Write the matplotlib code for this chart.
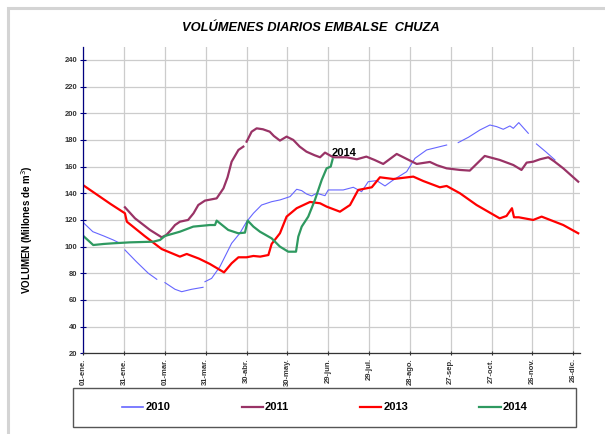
import numpy as np
import matplotlib
matplotlib.use("Agg")
import matplotlib.pyplot as plt
from matplotlib.patches import Rectangle
from matplotlib.lines import Line2D

nan = np.nan
FONT = ["Liberation Sans Narrow", "Liberation Sans", "DejaVu Sans"]
plt.rcParams["font.family"] = FONT

# dia del año (0 = 01-ene) y volumen en millones de m3
days_2010 = [0, 7, 15, 22, 27, 28.5, 30.6, 39, 47.8, 54, 57, 60, 67.4, 72.3, 79.6, 88, 88.7,
             89.4, 94.3, 100.4, 109, 115, 120, 125, 131, 138.4, 144.5, 151.9, 156.8, 160.5,
             164, 167.8, 171.5, 177.6, 180, 185, 191, 198.4, 204.5, 209.4, 215.6, 221.7,
             227.8, 237.6, 243.7, 252.3, 267, 271, 275.5, 283, 291.5, 298.8, 303.7, 308.6,
             313.5, 316, 320, 327, 330, 333, 340, 346.6]
vol_2010 = [118, 111.2, 108, 105, 102.5, nan, 97.5, 88.7, 80, 75.5, nan, 73, 68, 66.2, 68, 69.5, nan,
            73.7, 76.2, 85, 102.5, 110, 118.7, 125, 131.2, 133.7, 135, 137.5, 143, 142,
            139.5, 138, 140, 138.2, 142.5, 142.5, 142.5, 144.5, 141.2, 148.7, 149.5, 145.5,
            150, 156.2, 166.2, 172.5, 176.2, nan, 178, 182, 187.5, 191.2, 190, 188,
            190.5, 188.7, 193, 185, nan, 177, 171, 165]

days_2011 = [30.6, 38, 49, 57.6, 61, 64, 67.4, 71, 77, 81, 84.5, 89.4, 98, 103, 106, 109, 114,
             117.6, 118.8, 120, 123.7, 127.4, 132, 137, 140, 144.5, 149.4, 154.3, 159, 164,
             170, 174, 177.6, 183.7, 193.5, 201, 208, 214, 220.4, 230.3, 245, 254.7, 260,
             267, 276.8, 284, 295, 306, 316, 322, 325.8, 330.6, 335.6, 341.7, 346, 352.7, 363.7]
vol_2011 = [129.5, 121.2, 112.5, 107, 108.7, 112, 116.2, 118.7, 120, 125, 131.2, 134.5, 136.2, 143.7,
            152, 163.7, 172.5, 175, nan, 178.7, 186.2, 188.7, 188, 186.2, 183, 179.5, 182.5, 180,
            175, 171.2, 168.5, 167, 170.5, 167, 167, 165.5, 167.5, 165, 162, 169.5, 162, 163.5,
            161, 158.7, 157.5, 157, 168, 165, 161.2, 157.5, 163, 163.7, 165.5, 167, 164, 158.7, 148.7]

days_2013 = [0, 10, 20, 30.6, 32, 45, 57.6, 71, 76, 85, 93, 103.4, 109, 114, 120, 125, 130, 136,
             138.4, 144.5, 149.4, 156.8, 166.6, 174, 178.8, 188.6, 196, 202, 212, 218, 227.8,
             242.5, 249.8, 262, 267, 276.8, 289, 306, 311, 315, 316.5, 320, 330.6, 336.8, 352.7, 363.7]
vol_2013 = [146, 139, 132, 125, 118.7, 108, 98.2, 92.5, 94.5, 91, 87, 80.7, 87.5, 92, 92, 93, 92.5, 93.7,
            102, 110, 122.5, 128.8, 133.5, 132.5, 130, 126.2, 131.2, 142.5, 144.5, 152, 150.7,
            152.5, 149.2, 144.5, 145.5, 140, 131.2, 121.2, 123, 128.8, 122, 122, 120, 122.5, 116.2, 110]

days_2014 = [0, 7.3, 15, 22, 34.3, 51.4, 56.4, 60, 71, 80.8, 93, 96.8, 98, 100.4, 106.5, 113.9,
             118.8, 120.8, 125, 129.8, 138.4, 144.5, 150.6, 156.3, 158, 160.5, 165.3, 170.2,
             175.2, 178.8, 181.8, 183.2]
vol_2014 = [108, 101.2, 102, 102.5, 103.2, 103.7, 105, 108, 111.2, 115, 116.2, 116.2, 119.5, 117.5,
            112.5, 110, 110.5, 119.5, 115, 111.2, 106.2, 100, 96.2, 96.2, 107.5, 115, 122.5, 135,
            150, 158.7, 160, 165.5]

tick_days = [0, 30, 60, 90, 120, 150, 180, 210, 240, 270, 300, 330, 360]
tick_labels = ["01-ene.", "31-ene.", "01-mar.", "31-mar.", "30-abr.", "30-may.", "29-jun.",
               "29-jul.", "28-ago.", "27-sep.", "27-oct.", "26-nov.", "26-dic."]
y_ticks = list(range(20, 241, 20))

series = [
    ("2010", days_2010, vol_2010, "#6666ff", 0.8),
    ("2011", days_2011, vol_2011, "#993366", 1.6),
    ("2013", days_2013, vol_2013, "#ff0000", 1.6),
    ("2014", days_2014, vol_2014, "#2e9960", 1.6),
]

W, H = 605, 434
fig = plt.figure(figsize=(W / 100, H / 100), dpi=100)
fig.patch.set_facecolor("white")

# marco gris exterior
fig.patches.append(Rectangle((8 / W, -0.05), 1.2, 1 - 8 / H + 0.05, transform=fig.transFigure,
                             fill=False, edgecolor="#d4d4d4", lw=2.2))

ax = fig.add_axes([83.3 / W, 1 - 353.3 / H, (580 - 83.3) / W, 306.7 / H])
for name, d, v, c, lw in series:
    ax.plot(d, v, color=c, lw=lw, solid_joinstyle="round")

ax.set_xlim(0, 365)
ax.set_ylim(20, 250)
ax.set_xticks(tick_days)
ax.set_xticklabels(tick_labels, rotation=90, fontsize=5.5)
ax.set_yticks(y_ticks)
ax.tick_params(axis="y", labelsize=5.5, direction="inout", length=4, color="#000080", width=0.8, pad=2)
ax.tick_params(axis="x", direction="inout", length=3, color="#333333", width=0.8, pad=2)
for lab in ax.get_yticklabels() + ax.get_xticklabels():
    lab.set_fontweight("bold")
    lab.set_color("#333333")
ax.grid(True, color="#cccccc", lw=0.9)
ax.set_axisbelow(True)
for s in ["top", "right"]:
    ax.spines[s].set_visible(False)
ax.spines["left"].set_color("#000080")
ax.spines["bottom"].set_color("#333333")
ax.spines["left"].set_linewidth(0.9)
ax.spines["bottom"].set_linewidth(0.9)

ax.text(182.5, 170, "2014", fontsize=8, fontweight="bold", ha="left", va="center")

fig.text(311 / W, 1 - 28 / H, "VOLÚMENES DIARIOS EMBALSE  CHUZA", ha="center", va="center",
         fontsize=9.3, fontweight="bold", fontstyle="italic")
fig.text(27 / W, 1 - 230 / H, "VOLUMEN (Millones de m$^3$)", rotation=90, ha="center", va="center",
         fontsize=7, fontweight="bold")

# caja de la leyenda
fig.patches.append(Rectangle((73 / W, 1 - 427 / H), 503 / W, 39 / H, transform=fig.transFigure,
                             fill=False, edgecolor="#555555", lw=1))
handles = [Line2D([], [], color=c, lw=max(lw, 1.2)) for _, _, _, c, lw in series]
labels = [s[0] for s in series]
fig.legend(handles, labels, loc="center", bbox_to_anchor=(325 / W, 1 - 407.5 / H), ncol=4,
           frameon=False, handlelength=1.9, handletextpad=0.2, columnspacing=6.4,
           prop={"weight": "bold", "size": 8})

fig.savefig("out.png", dpi=100)
